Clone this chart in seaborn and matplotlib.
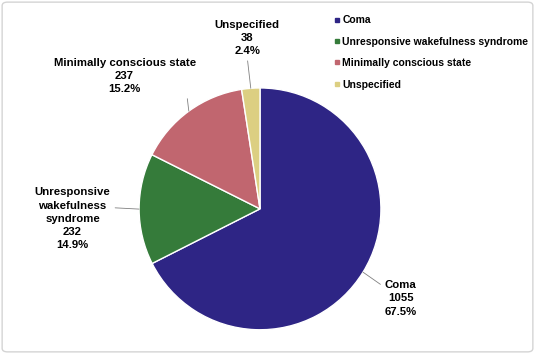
import matplotlib
matplotlib.use("Agg")
import matplotlib.pyplot as plt
from matplotlib.lines import Line2D
from matplotlib.patches import FancyBboxPatch
import numpy as np
import seaborn as sns

sns.set_theme(style="white")
plt.rcParams['font.family'] = ['Liberation Sans', 'DejaVu Sans']
plt.rcParams['font.weight'] = 'bold'
plt.rcParams['text.color'] = 'black'

# %% data
categories = ["Coma", "Unresponsive wakefulness syndrome", "Minimally conscious state", "Unspecified"]
pie_labels = ["Coma", "Unresponsive\nwakefulness\nsyndrome", "Minimally conscious state", "Unspecified"]
counts = [1055, 232, 237, 38]
percents = ["67.5%", "14.9%", "15.2%", "2.4%"]
colors = sns.color_palette(["#2E2585", "#357B3A", "#C1666F", "#DCCF82"])

# label placement (pie radius = 1) and where the leader meets the text box
label_pos = [(1.165, -0.74), (-1.55, -0.083), (-1.12, 1.10), (-0.107, 1.413)]
label_rel = [(0.0, 0.8), (1.0, 0.68), (0.92, 0.56), (0.5, 0.0)]

# %% plot
fig = plt.figure(figsize=(5.35, 3.54), dpi=100)
ax = fig.add_axes([0.26, 0.068, 0.452, 0.684])

wedges, _ = ax.pie(
    counts,
    colors=colors,
    startangle=90,
    counterclock=False,
    wedgeprops=dict(edgecolor="white", linewidth=1),
)
ax.set_xlim(-1, 1)
ax.set_ylim(-1, 1)

for w, lab, n, pct, pos, rel in zip(wedges, pie_labels, counts, percents, label_pos, label_rel):
    ang = np.deg2rad((w.theta1 + w.theta2) / 2)
    ax.annotate(
        f"{lab}\n{n}\n{pct}",
        xy=(np.cos(ang), np.sin(ang)),
        xytext=pos,
        ha="center", va="center", multialignment="center",
        fontsize=8.2, fontweight="bold", linespacing=1.4, color="black",
        arrowprops=dict(arrowstyle="-", color="#808080", lw=0.6,
                        relpos=rel, shrinkA=1, shrinkB=0),
        annotation_clip=False,
    )

handles = [Line2D([], [], marker="s", linestyle="", markersize=3.5,
                  markerfacecolor=c, markeredgecolor=c) for c in colors]
leg = fig.legend(
    handles, categories,
    loc="upper left", bbox_to_anchor=(0.626, 0.957),
    frameon=False, handlelength=0.4, handletextpad=0.3,
    labelspacing=1.1, borderaxespad=0, borderpad=0,
    prop={"weight": "bold", "size": 7.5},
)
for t in leg.get_texts():
    t.set_color("black")

fig.patches.append(FancyBboxPatch(
    (0.004, 0.006), 0.992, 0.988,
    boxstyle="round,pad=0,rounding_size=0.01",
    transform=fig.transFigure, fill=False, edgecolor="#D4D4D4", linewidth=1,
))

fig.savefig("out.png", dpi=100)
